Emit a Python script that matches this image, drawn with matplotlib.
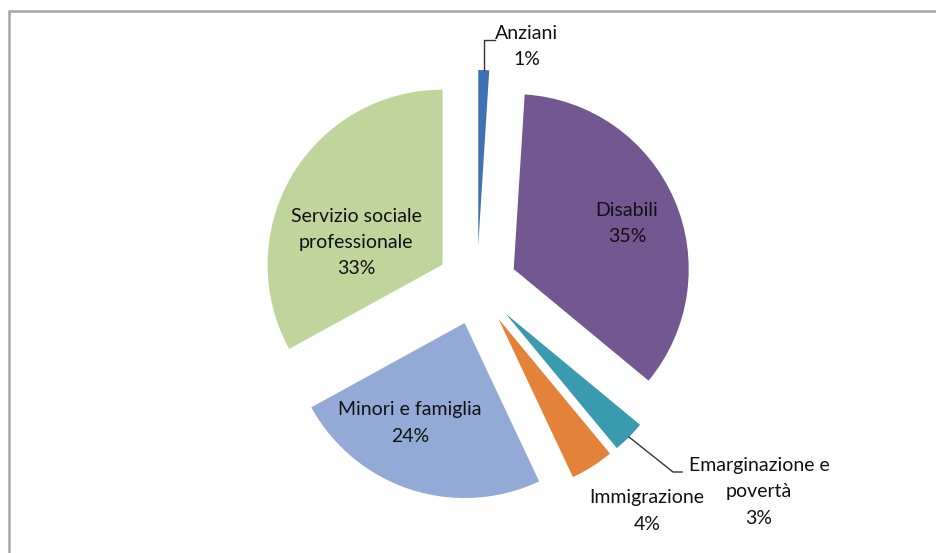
import numpy as np
import matplotlib
matplotlib.use('Agg')
import matplotlib.pyplot as plt
from matplotlib.patches import Rectangle

# Ripartizione della spesa per area di intervento
categorie = ['Anziani', 'Disabili', 'Emarginazione e\npovertà', 'Immigrazione',
             'Minori e famiglia', 'Servizio sociale\nprofessionale']
percentuali = [1, 35, 3, 4, 24, 33]
colori = ['#3F72B5', '#725791', '#3A9BB0', '#E5823A', '#94AAD6', '#C0D59C']

# centro dei blocchi di testo, in pixel dall'angolo in alto a sinistra
pos_etichette = [(527, 46), (627, 223), (759, 492), (647, 511), (410, 423), (356, 242)]
interlinea = 26

plt.rcParams['font.family'] = ['Lato', 'DejaVu Sans']

W, H = 937, 553
fig = plt.figure(figsize=(W / 100, H / 100), dpi=100)
ax = fig.add_axes([0, 0, 1, 1])

R = 175
centro = (477, H - 285)
wedges, _ = ax.pie(percentuali, colors=colori, radius=R, center=centro,
                   explode=[40] * len(percentuali), startangle=90,
                   counterclock=False, wedgeprops=dict(linewidth=0))

ax.set_xlim(0, W)
ax.set_ylim(0, H)
ax.set_aspect('equal')
ax.axis('off')

# una riga di testo alla volta, centrate sul blocco
for cat, p, (x, y) in zip(categorie, percentuali, pos_etichette):
    righe = cat.split('\n') + [f'{p}%']
    y0 = y - interlinea * (len(righe) - 1) / 2
    for i, riga in enumerate(righe):
        ax.text(x, H - (y0 + i * interlinea), riga, ha='center', va='center',
                fontsize=14, color='#111111')

def bordo(w):
    # punto medio dell'arco esterno di uno spicchio
    t = np.radians((w.theta1 + w.theta2) / 2)
    cx, cy = w.center
    return cx + w.r * np.cos(t), cy + w.r * np.sin(t)

# linee guida per le etichette esterne
sx, sy = bordo(wedges[0])
ax.plot([sx, sx, sx + 11], [sy, H - 40, H - 40], color='#333333', lw=1)
sx, sy = bordo(wedges[2])
ax.plot([sx, 673, 682], [sy, H - 472, H - 472], color='#333333', lw=1)

# cornice grigia del grafico
ax.add_patch(Rectangle((9, -20), 1000, H - 11 + 20, fill=False,
                       edgecolor='#A6A6A6', lw=1.8, clip_on=False))

fig.savefig('out.png', dpi=100)
